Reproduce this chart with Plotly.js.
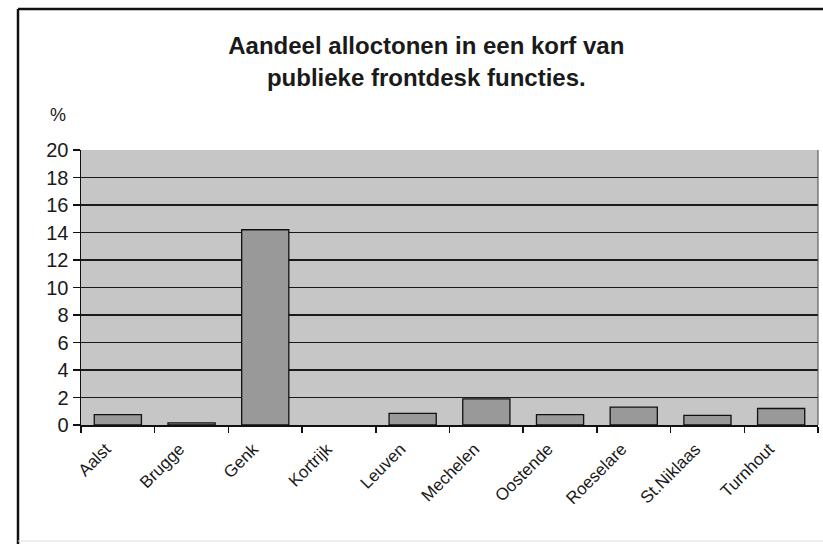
<!DOCTYPE html>
<html>
<head>
<meta charset="utf-8">
<script src="https://cdn.plot.ly/plotly-3.0.1.min.js"></script>
<style>html,body{margin:0;padding:0;background:#fff;}#chart{width:823px;height:544px;}</style>
</head>
<body>
<div id="chart"></div>
<script>
const cities = ["Aalst","Brugge","Genk","Kortrijk","Leuven","Mechelen","Oostende","Roeselare","St.Niklaas","Turnhout"];
const shares = [0.75, 0.15, 14.2, 0, 0.85, 1.9, 0.75, 1.3, 0.7, 1.2];
const yTicks = [0,2,4,6,8,10,12,14,16,18,20];

const W = 823, H = 544, L = 81, R = 5, T = 150, B = 119;
const pw = W - L - R, ph = H - T - B;
const px = x => (x - L) / pw;
const py = y => (H - B - y) / ph;

const trace = {
  type: "bar",
  x: cities,
  y: shares,
  marker: {color: "#999999", line: {color: "#111", width: shares.map(v => v > 0 ? 1.3 : 0)}},
  hoverinfo: "skip"
};

const layout = {
  width: W, height: H,
  margin: {l: L, r: R, t: T, b: B},
  paper_bgcolor: "#ffffff",
  plot_bgcolor: "#c6c6c6",
  showlegend: false,
  bargap: 0.36,
  font: {family: "Liberation Sans, Arial, sans-serif", color: "#1a1a1a"},
  title: {
    text: "<b>Aandeel alloctonen in een korf van<br>publieke frontdesk functies.</b>",
    font: {size: 24, color: "#1a1a1a"},
    x: 0.518, xanchor: "center", y: 0.9, yanchor: "top"
  },
  xaxis: {
    type: "category",
    tickangle: -45,
    tickfont: {size: 17, color: "#1a1a1a"},
    ticks: "outside", ticklen: 6, tickcolor: "#111", tickwidth: 1.5,
    tickson: "boundaries",
    ticklabelshift: -12,
    ticklabelstandoff: 6,
    showline: true, linecolor: "#111", linewidth: 1.5,
    showgrid: false, zeroline: false, fixedrange: true
  },
  yaxis: {
    range: [0, 20],
    tickvals: yTicks,
    ticktext: yTicks.map(String),
    tickfont: {size: 20, color: "#1a1a1a"},
    ticks: "outside", ticklen: 7, tickcolor: "#111", tickwidth: 1.2,
    showline: true, linecolor: "#111", linewidth: 1.5,
    showgrid: true, gridcolor: "#1a1a1a", gridwidth: 1.2,
    zeroline: false, fixedrange: true
  },
  annotations: [{
    text: "%", xref: "paper", yref: "paper",
    x: px(58), y: py(115), xanchor: "center", yanchor: "middle",
    showarrow: false, font: {size: 18, color: "#1a1a1a"}
  }],
  shapes: [
    {type: "line", xref: "paper", yref: "paper", x0: px(18), x1: px(823), y0: py(9), y1: py(9), line: {color: "#111", width: 2.5}},
    {type: "line", xref: "paper", yref: "paper", x0: px(18), x1: px(18), y0: py(9), y1: py(544), line: {color: "#111", width: 2.5}},
    {type: "line", xref: "paper", yref: "paper", x0: px(18), x1: px(823), y0: py(541), y1: py(541), line: {color: "#dddddd", width: 1}},
    {type: "line", xref: "paper", yref: "paper", x0: 1, x1: 1, y0: 0, y1: 1, line: {color: "#444", width: 1}}
  ]
};

Plotly.newPlot("chart", [trace], layout, {displayModeBar: false, staticPlot: true});
</script>
</body>
</html>
